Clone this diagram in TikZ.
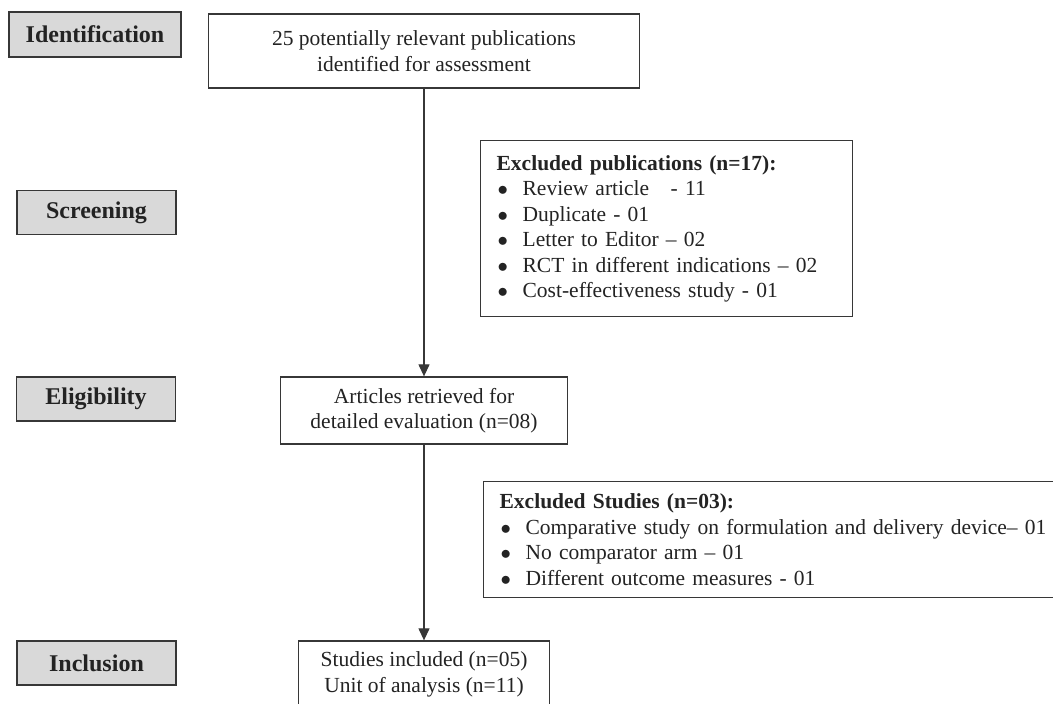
\documentclass[tikz,border=0pt]{standalone}
\usepackage{fontspec}
\setmainfont{Liberation Serif}
\usepackage{xcolor}
\usepackage{tikz}
\usetikzlibrary{arrows.meta, positioning}
\definecolor{labelgray}{RGB}{217, 217, 217}
\definecolor{linegray}{RGB}{55, 55, 55}
\definecolor{textgray}{RGB}{35, 35, 35}
\newcommand{\itembul}{\makebox[26pt][l]{\hspace{1pt}$\bullet$}}

\begin{document}
\begin{tikzpicture}[
    x=1pt, y=-1pt,
    font=\fontsize{21.5}{25.5}\selectfont,
    text=textgray,
    stage/.style={rectangle, draw=linegray, line width=1.4pt, fill=labelgray,
                 minimum width=159pt, minimum height=44pt, inner sep=0pt,
                 font=\fontsize{24}{28}\selectfont\bfseries},
    flowbox/.style={rectangle, draw=linegray, line width=1.3pt, fill=white, align=center, inner sep=0pt},
    listbox/.style={rectangle, draw=linegray, line width=1.3pt, fill=white, align=left,
                 inner xsep=16pt, inner ysep=0pt, anchor=north west},
    arrow/.style={-{Triangle[width=11pt,length=12pt]}, line width=1.2pt, linegray}
]
\useasboundingbox (0,0) rectangle (1053,704);

% stage labels
\node[stage, minimum width=172pt, minimum height=45pt] (ident) at (95, 34.5) {Identification};
\node[stage] (screen) at (96.5, 212.5) {Screening};
\node[stage] (elig) at (96, 399) {Eligibility};
\node[stage] (incl) at (96.5, 663) {Inclusion};

% main flow
\node[flowbox, minimum width=431pt, minimum height=74pt] (pubs) at (424, 51) {25 potentially relevant publications\\identified for assessment};
\node[flowbox, minimum width=287pt, minimum height=67pt] (artic) at (424, 410.5) {Articles retrieved for\\detailed evaluation (n=08)};
\node[flowbox, minimum width=251pt, minimum height=67pt] (studs) at (424, 674.5) {Studies included (n=05)\\Unit of analysis (n=11)};

% exclusions
\node[listbox, text width=340pt, minimum height=176pt] (expubs) at (480, 140) {\textbf{Excluded publications (n=17):}\\
    \itembul Review article\ \ \ - 11\\
    \itembul Duplicate - 01\\
    \itembul Letter to Editor -- 02\\
    \itembul RCT in different indications -- 02\\
    \itembul Cost-effectiveness study - 01};
\node[listbox, text width=568pt, minimum height=116pt] (exstuds) at (483, 481) {\textbf{Excluded Studies (n=03):}\\
    \itembul Comparative study on formulation and delivery device-- 01\\
    \itembul No comparator arm -- 01\\
    \itembul Different outcome measures - 01};

\draw[arrow] (pubs) -- (artic);
\draw[arrow] (artic) -- (studs);
\end{tikzpicture}
\end{document}
